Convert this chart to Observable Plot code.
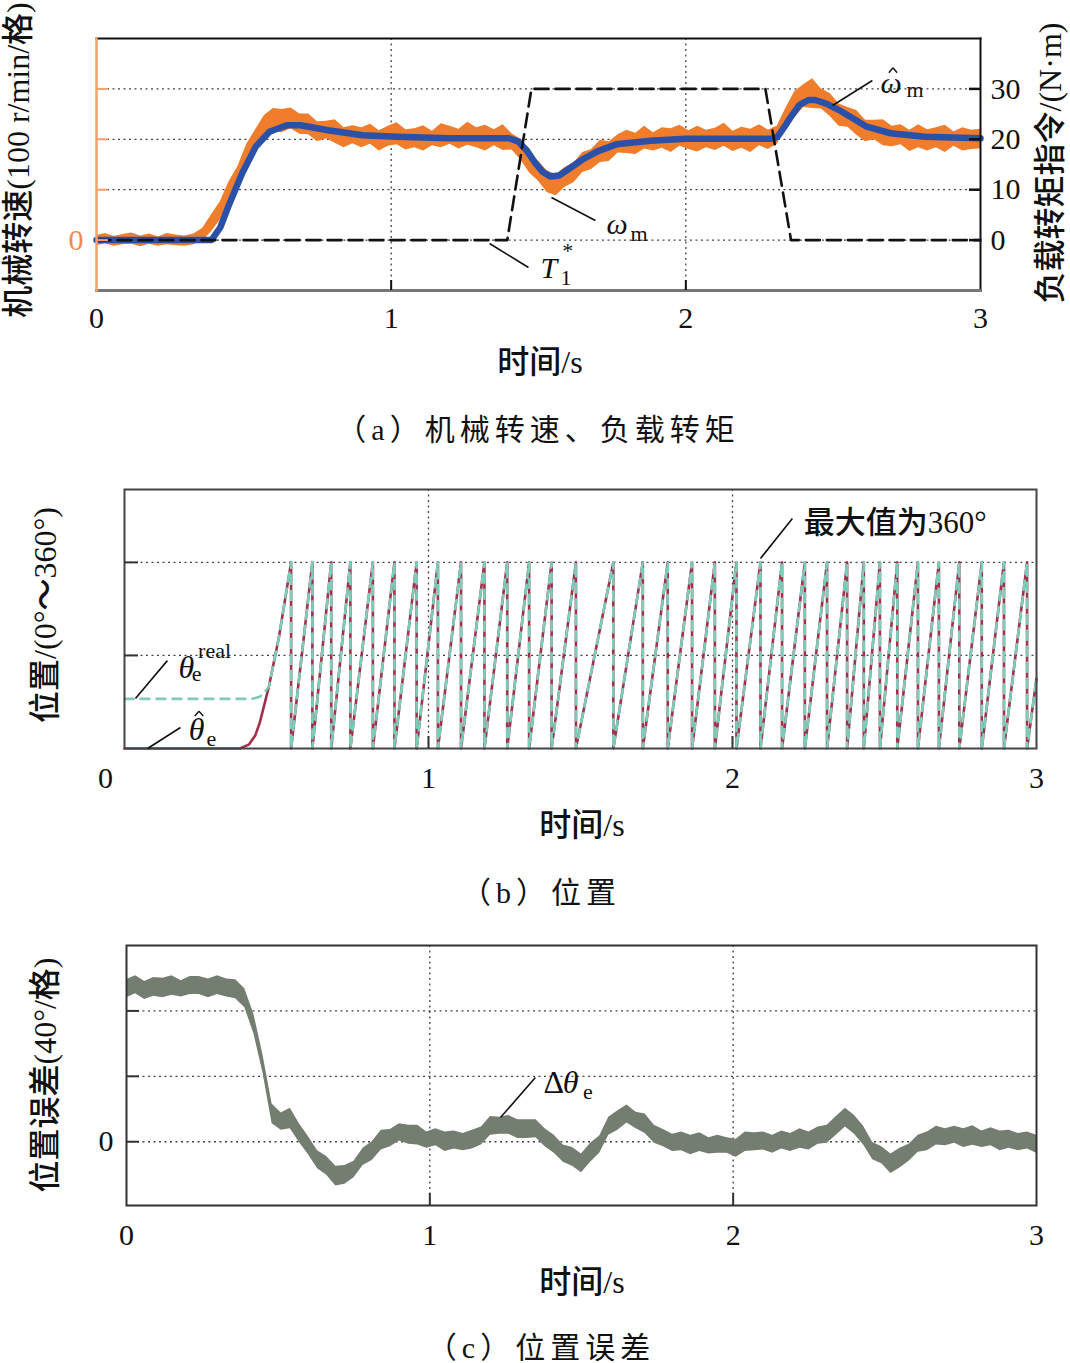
<!DOCTYPE html>
<html><head><meta charset="utf-8">
<script src="https://cdn.jsdelivr.net/npm/d3@7"></script>
<script src="https://cdn.jsdelivr.net/npm/@observablehq/plot@0.6"></script>
<style>
body{margin:0;background:#fff;}
#root{position:relative;width:1070px;height:1363px;overflow:hidden;font-family:'Liberation Serif','Noto Sans CJK SC',serif;color:#111;}
.pane{position:absolute;left:0;}
.lbl{position:absolute;white-space:nowrap;transform:translate(-50%,-50%);font-size:32px;line-height:1;font-weight:500;}
.rot{transform:translate(-50%,-50%) rotate(-90deg);}
.cap{position:absolute;white-space:nowrap;transform:translate(-50%,-50%);font-size:30px;letter-spacing:5px;line-height:1;}
</style></head><body><div id="root">
<div class="pane" id="pa" style="top:0"></div>
<div class="pane" id="pb" style="top:480px"></div>
<div class="pane" id="pc" style="top:935px"></div>
<div class="lbl rot" style="left:18px;top:160px">机械转速(100 r/min/格)</div>
<div class="lbl rot" style="left:1050px;top:163px">负载转矩指令/(N·m)</div>
<div class="lbl" style="left:540px;top:362px">时间/s</div>
<div class="cap" style="left:538px;top:430px">（a）机械转速、负载转矩</div>
<div class="lbl rot" style="left:45px;top:615px">位置/(0°～360°)</div>
<div class="lbl" style="left:582px;top:825px">时间/s</div>
<div class="cap" style="left:541px;top:893px">（b）位置</div>
<div class="lbl rot" style="left:45px;top:1075px">位置误差(40°/格)</div>
<div class="lbl" style="left:582px;top:1282px">时间/s</div>
<div class="cap" style="left:541px;top:1348px">（c）位置误差</div>
</div>
<script>
// ---------- data ----------
const timeTicks = [0, 1, 2, 3];
const speedGrid = [0, 100, 200, 300];           // r/min (100 r/min per grid)
const torqueTicks = [0, 10, 20, 30];            // N·m
const posGrid = [180, 360];                     // degrees
const errGrid = [0, 40, 80];                    // degrees

// commanded load torque T1* (N·m)
const torqueT = [0, 1.394, 1.476, 2.270, 2.357, 3];
const torqueV = [0, 0, 30, 30, 0, 0];

// estimated speed (blue), r/min
const blueT = [0,0.39,0.42,0.447,0.494,0.54,0.587,0.646,0.692,0.786,0.903,1.02,1.195,1.40,1.43,1.46,1.49,1.515,1.54,1.57,1.60,1.647,1.70,1.764,1.88,2.0,2.288,2.311,2.335,2.357,2.385,2.416,2.439,2.48,2.52,2.614,2.695,2.811,3.0];
const blueV = [0,0,25,66,132,185,215,228,228,218,208,205,202,202,196,178,152,135,126,128,140,159,176,190,197,201,201,205,225,245,268,278,278,270,258,225,212,205,202];

// sample times for the noisy measured traces
const sampleT = [0,0.03,0.06,0.09,0.12,0.15,0.18,0.21,0.24,0.27,0.3,0.33,0.36,0.39,0.42,0.45,0.48,0.51,0.54,0.57,0.6,0.63,0.66,0.69,0.72,0.75,0.78,0.81,0.84,0.87,0.9,0.93,0.96,0.99,1.02,1.05,1.08,1.11,1.14,1.17,1.2,1.23,1.26,1.29,1.32,1.35,1.38,1.41,1.44,1.47,1.5,1.53,1.56,1.59,1.62,1.65,1.68,1.71,1.74,1.77,1.8,1.83,1.86,1.89,1.92,1.95,1.98,2.01,2.04,2.07,2.1,2.13,2.16,2.19,2.22,2.25,2.28,2.31,2.34,2.37,2.4,2.43,2.46,2.49,2.52,2.55,2.58,2.61,2.64,2.67,2.7,2.73,2.76,2.79,2.82,2.85,2.88,2.91,2.94,2.97,3];

// measured speed ω_m (orange): centre and read spread above / below, r/min
const omegaMid = [0,0,0,0,0,0,0,0,0,0, 0,0,8,30,58,92,130,168,200,222, 233,237,236,232,226,220,215,212,209,207, 206,205,204,204,203,203,202,203,204,205, 205,206,206,205,205,204,202,195,180,158, 135,120,118,125,138,150,162,172,181,188, 193,196,198,200,201,202,202,202,202,201, 202,203,202,201,202,202,203,210,238,265, 282,285,278,266,252,240,230,222,216,211, 207,205,203,202,202,201,202,201,200,200, 200];
const omegaUp = [9,13,7,11,14,8,12,6,13,10, 8,12,15,20,18,24,16,22,19,25, 28,22,26,18,24,15,21,27,14,20, 17,25,13,22,30,16,19,24,12,26, 21,14,28,18,23,15,27,16,20,13, 22,17,12,19,15,24,18,26,14,21, 25,16,28,13,22,19,26,15,24,17, 20,29,14,23,18,27,15,16,24,30, 26,35,22,25,18,23,27,16,22,28, 19,24,15,27,17,22,26,14,23,18, 20];
const omegaDown = [11,7,12,9,8,13,8,12,9,11, 12,9,10,14,18,15,20,17,22,16, 18,24,15,22,17,25,14,20,26,16, 23,15,27,18,14,24,19,26,17,22, 15,25,18,22,28,17,24,16,21,25, 18,26,30,20,24,16,22,18,25,15, 21,26,17,23,19,28,16,22,27,18, 24,17,26,19,28,15,23,20,18,22, 19,24,18,21,26,16,22,27,17,24, 22,16,27,19,25,18,28,15,23,20, 19];

// position: start-up segment, then wrap instants (sawtooth 0–360°)
const startT = [0, 0.38, 0.41, 0.43, 0.445, 0.46, 0.475, 0.508, 0.548];
const startHat = [0, 0, 8, 25, 50, 85, 120, 215, 360];
const startRealT = [0, 0.42, 0.445, 0.462, 0.475, 0.508, 0.548];
const startReal = [96, 96, 100, 110, 120, 215, 360];
const wrapT = [0.548,0.618,0.680,0.743,0.817,0.888,0.961,1.031,1.107,1.184,1.259,1.331,1.405,1.485,1.608,1.705,1.787,1.867,1.942,2.013,2.092,2.163,2.238,2.311,2.377,2.432,2.485,2.542,2.610,2.679,2.746,2.820,2.893,2.969];
const thetaEnd = 135;

// position error Δθ_e: centre and read spread, degrees
const errMid = [94,94.5,93.5,94,95,94,94.5,95,94,94.5, 95,94.5,93,88,72,48,17,12,14,6, -3,-10,-16,-20,-21,-16,-10,-5,0,3, 5,5,3,2,1.5,1,0.5,0.5,0,4, 9,11,9,8,9,7,3,-2,-6,-10, -12.5,-8,-1,9,14,16,14,10,5,1.5, 0,-0.5,-1,-1.5,-1.5,-2,-3,-3,-1,0.5, 0,-0.5,0,0,1,2,3,5,9,15, 11,3,-5,-9,-12.5,-11,-6,-2,1,3, 3.5,3.5,3,2.8,2.5,2,1.5,1,0.5,0, -1];
const errUp = [5,7,4.5,6.5,5,7.5,4,6,7,5, 6.5,5,6,5.5,6,5,6,5.5,6.5,5, 6,4.5,7,5,6.5,4,6,5,7,4.5, 6,5,7,4,6.5,5,6,4.5,7,5, 6.5,4,7,5.5,4.5,6.5,5,6,4,6.5, 5,7,4.5,6,5,6.5,4,7,5,6, 4.5,6.5,5,7,4,6,5.5,4.5,7,5, 6,4.5,6.5,5,7,4,6,5,6.5,5.5, 5,6.5,4.5,6,5,7,4.5,6,5,6.5, 4.5,6,5,7,4,6.5,5,6,4.5,6, 5];
const errDown = [6,4,6.5,5,7,4.5,6,5,4,6.5, 5,6,5.5,6,6,6,6,5,6,6.5, 5,6.5,4.5,7,5,6,4.5,6.5,5,6, 4.5,6.5,5,6,4,7,5,6,4.5,6, 5,6.5,4.5,6,7,4.5,6,5,6.5,5, 6.5,4.5,6,5,7,4.5,6,5,6,4.5, 6,5,7,4.5,6,5,4,6.5,5,6, 5,6.5,4.5,6,5,7,4.5,6,5,6, 6.5,5,6,4.5,7,5,6,4.5,6.5,5, 6,4.5,6.5,5,6,4.5,7,5,6,4.5, 6];

// ---------- tables built from the arrays ----------
const torque = torqueT.map((t, i) => ({t, v: torqueV[i] * 10}));
const blue = blueT.map((t, i) => ({t, v: blueV[i]}));
const omega = sampleT.map((t, i) => ({t, lo: omegaMid[i] - omegaDown[i], hi: omegaMid[i] + omegaUp[i]}));
const err = sampleT.map((t, i) => ({t, lo: errMid[i] - errDown[i], hi: errMid[i] + errUp[i]}));
function saw(ts, vs) {
  const pts = ts.map((t, i) => ({t, v: vs[i]}));
  for (let i = 1; i < wrapT.length; i++) { pts.push({t: wrapT[i-1], v: 0}); pts.push({t: wrapT[i], v: 360}); }
  pts.push({t: wrapT[wrapT.length-1], v: 0});
  pts.push({t: 3, v: thetaEnd});
  return pts;
}
const thetaHat = saw(startT, startHat);
const thetaReal = saw(startRealT, startReal);

// ---------- styles ----------
const SERIF = "'Liberation Serif','Times New Roman',serif";
const CJK = "'Liberation Serif','Noto Sans CJK SC',sans-serif";
const ORANGE = "#f07d2c", BLUE = "#2a50a8", RED = "#a3304a", TEAL = "#7dcbb9", GREYGREEN = "#737d70";
const grid = {stroke: "#222", strokeOpacity: 0.85, strokeWidth: 1.3, strokeDasharray: "2,3.5"};
const style = {fontFamily: SERIF, fontSize: "30px", background: "transparent", overflow: "visible", color: "#111"};
const lab = (s, x, y, o = {}) => Plot.text([s], {x, y, text: d => d, textAnchor: "start", lineAnchor: "bottom", fontFamily: SERIF, fontSize: 30, fill: "#111", ...o});
const lead = (x1, y1, x2, y2) => Plot.link([0], {x1, y1, x2, y2, stroke: "#111", strokeWidth: 1.6});
// a small circumflex accent drawn as two strokes (x centre, half-width, base y, apex y in data units)
const caret = (x, hw, yb, ya) => [
  Plot.link([0], {x1: x - hw, y1: yb, x2: x, y2: ya, stroke: "#111", strokeWidth: 1.4}),
  Plot.link([0], {x1: x, y1: ya, x2: x + hw, y2: yb, stroke: "#111", strokeWidth: 1.4})
];

// ---------- (a) ----------
const pa = Plot.plot({
  width: 1070, height: 345, marginTop: 38, marginBottom: 55, marginLeft: 96, marginRight: 90,
  x: {domain: [0, 3]}, y: {domain: [-100, 400]}, style,
  marks: [
    Plot.gridY(speedGrid, grid),
    Plot.gridX([1, 2], grid),
    Plot.areaY(omega, {x: "t", y1: "lo", y2: "hi", fill: ORANGE}),
    Plot.line(blue, {x: "t", y: "v", stroke: BLUE, strokeWidth: 6.5}),
    Plot.line(torque, {x: "t", y: "v", stroke: "#111", strokeWidth: 2.6, strokeDasharray: "14,7"}),
    Plot.frame({anchor: "top", stroke: "#111", strokeWidth: 2}),
    Plot.frame({anchor: "right", stroke: "#111", strokeWidth: 2}),
    Plot.frame({anchor: "bottom", stroke: "#777", strokeWidth: 3}),
    Plot.frame({anchor: "left", stroke: "#f4a06a", strokeWidth: 2.5}),
    Plot.axisY(speedGrid, {anchor: "left", tickSize: -12, tickFormat: () => "", stroke: "#f4a06a", strokeWidth: 2, label: null}),
    Plot.axisY([0], {anchor: "left", tickSize: 0, tickPadding: 13, tickFormat: d => String(d), fill: "#f08a50", label: null}),
    Plot.axisY(speedGrid, {anchor: "right", tickSize: -12, tickFormat: () => "", strokeWidth: 2.5, label: null}),
    Plot.axisY(torqueTicks.map(d => d * 10), {anchor: "right", tickSize: 0, tickPadding: 10, tickFormat: d => String(d / 10), label: null}),
    Plot.axisX([1, 2], {anchor: "bottom", tickSize: -10, tickFormat: () => "", strokeWidth: 2, label: null}),
    Plot.axisX(timeTicks, {anchor: "bottom", tickSize: 0, tickPadding: 16, tickFormat: d => String(d), label: null}),
    lead(2.633, 316.7, 2.498, 267),
    lab("ω", 2.661, 291, {fontStyle: "italic"}),
    ...caret(2.703, 0.014, 332, 342),
    lab("m", 2.749, 283, {fontSize: 22}),
    lead(1.544, 84.5, 1.693, 38.9),
    lab("ω", 1.731, 13, {fontStyle: "italic"}),
    lab("m", 1.812, -1, {fontSize: 22}),
    lead(1.334, -6.7, 1.466, -54.4),
    lab("T", 1.507, -76, {fontStyle: "italic"}),
    lab("1", 1.575, -90, {fontSize: 22}),
    lab("*", 1.581, -36, {fontSize: 22})
  ]
});
document.getElementById("pa").append(pa);

// ---------- (b) ----------
const pb = Plot.plot({
  width: 1070, height: 320, marginTop: 9, marginBottom: 52, marginLeft: 124, marginRight: 34,
  x: {domain: [0, 3]}, y: {domain: [0, 501]}, style,
  marks: [
    Plot.gridY(posGrid, grid),
    Plot.gridX([1, 2], grid),
    Plot.line(thetaHat, {x: "t", y: "v", stroke: RED, strokeWidth: 2.6}),
    Plot.line(thetaReal, {x: "t", y: "v", stroke: TEAL, strokeWidth: 2.6, strokeDasharray: "9,7"}),
    Plot.frame({stroke: "#444", strokeWidth: 2}),
    Plot.axisY(posGrid, {anchor: "left", tickSize: -14, tickFormat: () => "", strokeWidth: 2, stroke: "#333", label: null}),
    Plot.axisX([1, 2], {anchor: "bottom", tickSize: -12, tickFormat: () => "", strokeWidth: 2, stroke: "#333", label: null}),
    Plot.axisX([0], {anchor: "bottom", tickSize: 0, tickPadding: 18, dx: -19, tickFormat: d => String(d), label: null}),
    Plot.axisX(timeTicks.slice(1), {anchor: "bottom", tickSize: 0, tickPadding: 18, tickFormat: d => String(d), label: null}),
    lead(2.197, 445, 2.092, 367.5),
    lab("最大值为360°", 2.234, 416, {fontFamily: CJK, fontSize: 31, fontWeight: 500}),
    lead(0.036, 96.7, 0.141, 170),
    lab("θ", 0.178, 137, {fontStyle: "italic", fontSize: 32}),
    lab("e", 0.221, 130, {fontSize: 22}),
    lab("real", 0.242, 176, {fontSize: 22}),
    lead(0.076, 0, 0.184, 40.6),
    lab("θ", 0.211, 15.5, {fontStyle: "italic", fontSize: 32}),
    ...caret(0.245, 0.014, 63, 72),
    lab("e", 0.27, 5.8, {fontSize: 22})
  ]
});
document.getElementById("pb").append(pb);

// ---------- (c) ----------
const pc = Plot.plot({
  width: 1070, height: 330, marginTop: 10, marginBottom: 60, marginLeft: 126, marginRight: 34,
  x: {domain: [0, 3]}, y: {domain: [-39, 120]}, style,
  marks: [
    Plot.gridY(errGrid, grid),
    Plot.gridX([1, 2], grid),
    Plot.areaY(err, {x: "t", y1: "lo", y2: "hi", fill: GREYGREEN}),
    Plot.frame({stroke: "#333", strokeWidth: 2}),
    Plot.axisY(errGrid, {anchor: "left", tickSize: -13, tickFormat: () => "", strokeWidth: 2, stroke: "#333", label: null}),
    Plot.axisY([0], {anchor: "left", tickSize: 0, tickPadding: 13, tickFormat: d => String(d), label: null}),
    Plot.axisX([1, 2], {anchor: "bottom", tickSize: -12, tickFormat: () => "", strokeWidth: 2, stroke: "#333", label: null}),
    Plot.axisX(timeTicks, {anchor: "bottom", tickSize: 0, tickPadding: 18, tickFormat: d => String(d), label: null}),
    lead(1.348, 39.3, 1.233, 14.8),
    lab("Δ", 1.375, 29.5, {fontSize: 32}),
    lab("θ", 1.438, 29.5, {fontStyle: "italic", fontSize: 32}),
    lab("e", 1.505, 26.4, {fontSize: 22})
  ]
});
document.getElementById("pc").append(pc);
</script>
</body></html>
